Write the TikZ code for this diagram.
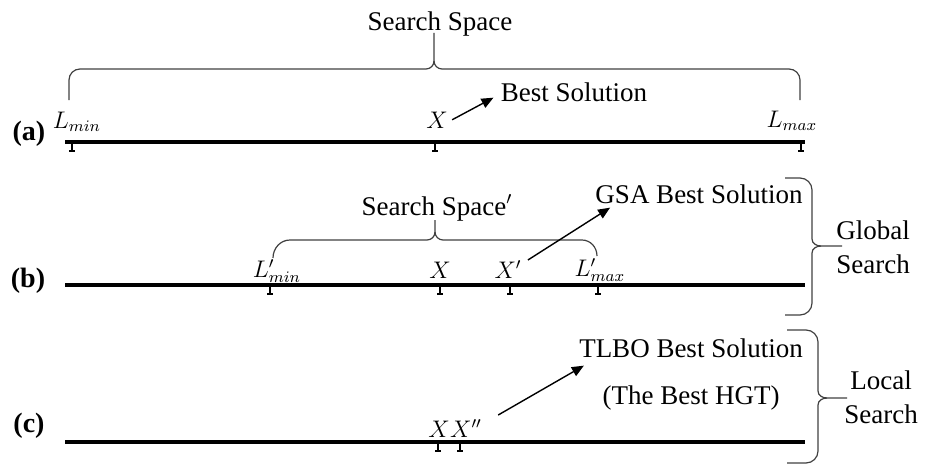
\documentclass[tikz,border=0pt]{standalone}
\usepackage{fontspec}
\setmainfont{Liberation Serif}
\usetikzlibrary{arrows.meta}

\tikzset{
  txt/.style={inner sep=0pt, anchor=base, font=\fontsize{13.5}{17}\selectfont},
  mth/.style={inner sep=0pt, anchor=base, font=\fontsize{12}{14}\selectfont},
  parttag/.style={inner sep=0pt, anchor=base, font=\fontsize{14}{16}\selectfont\bfseries},
  numline/.style={line width=2pt},
  tickmark/.style={line width=0.7pt},
  brc/.style={line width=0.6pt, black!75},
  arr/.style={line width=0.7pt, -{Triangle[length=6pt,width=5pt]}},
}

\begin{document}
\begin{tikzpicture}[x=0.5pt,y=-0.5pt]
        \useasboundingbox (0,0) rectangle (935,465);

        % (a) whole search space
        \draw[numline] (65,142) -- (805,142);
        \foreach \x in {72,435,801}
            \draw[tickmark] (\x,142) -- (\x,151) ({\x-3},151) -- ({\x+3},151);
        \node[parttag] (taga) at (29,140) {(a)};
        \node[mth] (lmina) at (77,128) {$L_{min}$};
        \node[mth] (xa) at (437,128) {$X$};
        \node[mth] (lmaxa) at (792,127) {$L_{max}$};
        \node[txt] (bsa) at (574,101) {Best Solution};
        \node[txt] (ssa) at (440,31) {Search Space};
        \draw[brc] (69,100) -- (69,80) to[out=90,in=180] (80,69) -- (426,69)
        to[out=0,in=-90] (434,61) -- (434,33);
        \draw[brc] (800,100) -- (800,80) to[out=90,in=0] (789,69) -- (442,69)
        to[out=180,in=-90] (434,61);
        \draw[arr] ([xshift=2pt]xa.east) -- ([shift={(-3.5pt,2pt)}]bsa.south west);

        % (b) global search
        \draw[numline] (65,285) -- (805,285);
        \foreach \x in {270,440,510,598}
            \draw[tickmark] (\x,285) -- (\x,294) ({\x-3},294) -- ({\x+3},294);
        \node[parttag] (tagb) at (28,287) {(b)};
        \node[mth] (lminb) at (277,277) {$L'_{min}$};
        \node[mth] (xb) at (440,278) {$X$};
        \node[mth] (xpb) at (508,278) {$X'$};
        \node[mth] (lmaxb) at (600,276) {$L'_{max}$};
        \node[txt] (ssb) at (437,215) {Search Space$'$};
        \node[txt] (gsa) at (699,203) {GSA Best Solution};
        \node[txt, align=center, anchor=north] (glob) at (873,220) {Global\\Search};
        \draw[brc] (273,258) to[out=90,in=180] (290,240) -- (427,240)
        to[out=0,in=-90] (435,232) -- (435,220);
        \draw[brc] (597,256) to[out=90,in=0] (582,240) -- (443,240)
        to[out=180,in=-90] (435,232);
        \draw[brc] (785,178) -- (800,178) to[out=0,in=90] (812,190) -- (812,239)
        to[out=-90,in=180] (821,246) -- (842,246);
        \draw[brc] (785,315) -- (800,315) to[out=0,in=-90] (812,303) -- (812,253)
        to[out=90,in=180] (821,246);
        \draw[arr] ([xshift=3pt]xpb.north east) -- ([shift={(7.5pt,-2pt)}]gsa.south west);

        % (c) local search
        \draw[numline] (65,442) -- (805,442);
        \foreach \x in {438,460}
            \draw[tickmark] (\x,442) -- (\x,451) ({\x-3},451) -- ({\x+3},451);
        \node[parttag] (tagc) at (29,432) {(c)};
        \node[mth] (xc) at (439,437) {$X$};
        \node[mth] (xppc) at (466,437) {$X''$};
        \node[txt] (tlbo) at (691,357) {TLBO Best Solution};
        \node[txt] (hgt) at (691,404) {(The Best HGT)};
        \node[txt, align=center, anchor=north] (locl) at (881,370) {Local\\Search};
        \draw[brc] (787,330) -- (806,330) to[out=0,in=90] (818,342) -- (818,391)
        to[out=-90,in=180] (827,398) -- (847,398);
        \draw[brc] (787,463) -- (806,463) to[out=0,in=-90] (818,451) -- (818,405)
        to[out=90,in=180] (827,398);
        \draw[arr] ([shift={(8pt,2pt)}]xppc.north east) -- ([shift={(2.5pt,-4pt)}]tlbo.south west);
\end{tikzpicture}
\end{document}
